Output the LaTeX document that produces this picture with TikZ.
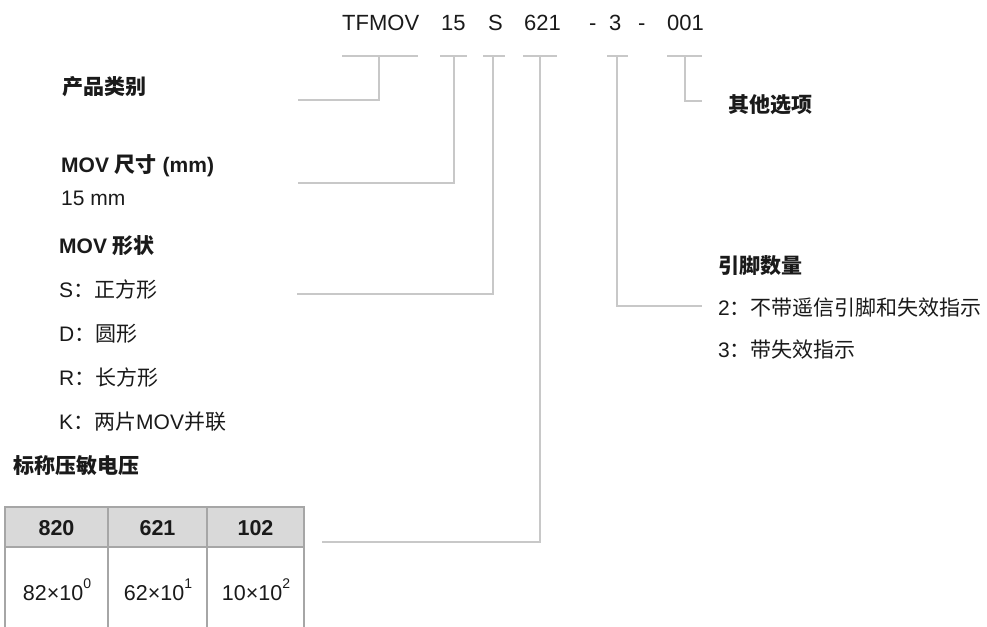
\documentclass[tikz,border=0pt]{standalone}
\usepackage{fontspec}
\setmainfont{Liberation Sans}
\newfontfamily\cjk{Noto Sans CJK SC}
\newcommand\Cj[1]{{\cjk #1}}
\definecolor{linec}{HTML}{C8C8C8}
\definecolor{tabc}{HTML}{A6A6A6}
\definecolor{headc}{HTML}{D9D9D9}
\definecolor{txtc}{HTML}{1A1A1A}
\begin{document}
\begin{tikzpicture}[x=1pt,y=-1pt,
  code/.style={anchor=base west,inner sep=0pt,text=txtc,font=\fontsize{22}{26}\selectfont},
  head/.style={anchor=base west,inner sep=0pt,text=txtc,font=\fontsize{21}{25}\selectfont\bfseries\cjk},
  headl/.style={anchor=base west,inner sep=0pt,text=txtc,font=\fontsize{21}{25}\selectfont\bfseries},
  item/.style={anchor=base west,inner sep=0pt,text=txtc,font=\fontsize{21}{25}\selectfont},
  conn/.style={draw=linec,line width=2pt},
  hcell/.style={draw=tabc,line width=2pt,fill=headc},
  bcell/.style={draw=tabc,line width=2pt},
  ctext/.style={anchor=center,inner sep=0pt,text=txtc,font=\fontsize{21.5}{25}\selectfont},
  hctext/.style={anchor=center,inner sep=0pt,text=txtc,font=\fontsize{21.5}{25}\selectfont\bfseries}]
\useasboundingbox (0,0) rectangle (987,626);

% code parts
\node[code] (c1) at (342,31) {TFMOV};
\node[code] (c2) at (441,31) {15};
\node[code] (c3) at (488,31) {S};
\node[code] (c4) at (524,31) {621};
\node[code] (c5) at (589,31) {-};
\node[code] (c6) at (609,31) {3};
\node[code] (c7) at (638,31) {-};
\node[code] (c8) at (667,31) {001};

% bracket tops
\coordinate (b1) at (379,56);
\coordinate (b2) at (454,56);
\coordinate (b3) at (493,56);
\coordinate (b4) at (540,56);
\coordinate (b6) at (617,56);
\coordinate (b8) at (685,56);
\draw[conn] (342,56) -- (418,56);
\draw[conn] (440,56) -- (467,56);
\draw[conn] (483,56) -- (505,56);
\draw[conn] (523,56) -- (557,56);
\draw[conn] (607,56) -- (628,56);
\draw[conn] (667,56) -- (702,56);

% connector ends
\coordinate (e1) at (298,100);
\coordinate (e2) at (298,183);
\coordinate (e3) at (297,294);
\coordinate (e4) at (322,542);
\coordinate (e6) at (702,306);
\coordinate (e8) at (702,101);
\draw[conn] (b1) |- (e1);
\draw[conn] (b2) |- (e2);
\draw[conn] (b3) |- (e3);
\draw[conn] (b4) |- (e4);
\draw[conn] (b6) |- (e6);
\draw[conn] (b8) |- (e8);

% left labels
\node[head] (l1) at (62,94) {产品类别};
\node[headl] (l2) at (61,172) {MOV \Cj{尺寸} (mm)};
\node[item] (l2a) at (61,205) {15 mm};
\node[headl] (l3) at (59,253) {MOV \Cj{形状}};
\node[item] (l3a) at (59,297) {S\Cj{：正方形}};
\node[item] (l3b) at (59,341) {D\Cj{：圆形}};
\node[item] (l3c) at (59,385) {R\Cj{：长方形}};
\node[item] (l3d) at (59,429) {K\Cj{：两片}MOV\Cj{并联}};
\node[head] (l4) at (13,473) {标称压敏电压};

% right labels
\node[head] (r1) at (728,112) {其他选项};
\node[head] (r2) at (718,273) {引脚数量};
\node[item] (r2a) at (718,315) {2\Cj{：不带遥信引脚和失效指示}};
\node[item] (r2b) at (718,357) {3\Cj{：带失效指示}};

% table
\draw[hcell] (5,507) rectangle (304,547);
\draw[bcell] (5,547) -- (5,650);
\draw[bcell] (108,507) -- (108,650);
\draw[bcell] (207,507) -- (207,650);
\draw[bcell] (304,547) -- (304,650);
\node[hctext] (h1) at (56.5,528) {820};
\node[hctext] (h2) at (157.5,528) {621};
\node[hctext] (h3) at (255.5,528) {102};
\node[ctext] (v1) at (57,590) {82×10\raisebox{0.55em}{\fontsize{14}{14}\selectfont 0}};
\node[ctext] (v2) at (158,590) {62×10\raisebox{0.55em}{\fontsize{14}{14}\selectfont 1}};
\node[ctext] (v3) at (256,590) {10×10\raisebox{0.55em}{\fontsize{14}{14}\selectfont 2}};
\end{tikzpicture}
\end{document}
